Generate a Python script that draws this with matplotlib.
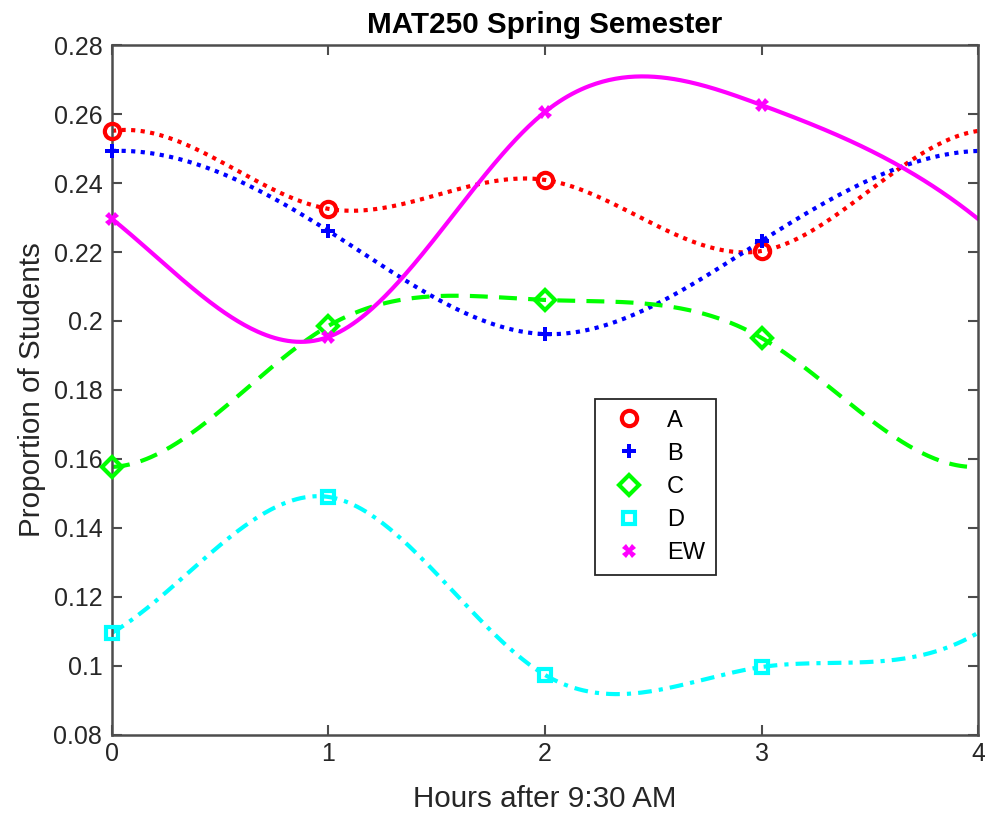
import numpy as np
import matplotlib
matplotlib.use("Agg")
import matplotlib.pyplot as plt

hours = [0, 1, 2, 3, 4]
grade_A = [0.2551, 0.2325, 0.2409, 0.2203, 0.2551]
grade_B = [0.2493, 0.2261, 0.1962, 0.2232, 0.2493]
grade_C = [0.1577, 0.1986, 0.2061, 0.1951, 0.1577]
grade_D = [0.1096, 0.1490, 0.0974, 0.0997, 0.1096]
grade_EW = [0.2296, 0.1954, 0.2606, 0.2626, 0.2296]
labels = ["A", "B", "C", "D", "EW"]


def periodic_spline(x, y, xq):
    x = np.asarray(x, float); y = np.asarray(y, float)
    n = len(x) - 1  # number of intervals; y[n] == y[0]
    h = np.diff(x)
    A = np.zeros((n, n)); r = np.zeros(n)
    for i in range(n):
        hp = h[i - 1]; hn = h[i]
        A[i, (i - 1) % n] += hp
        A[i, i] += 2 * (hp + hn)
        A[i, (i + 1) % n] += hn
        yp = y[i - 1] if i > 0 else y[n - 1]
        r[i] = 6 * ((y[i + 1] - y[i]) / hn - (y[i] - yp) / hp)
    M = np.linalg.solve(A, r)
    M = np.append(M, M[0])
    idx = np.clip(np.searchsorted(x, xq) - 1, 0, n - 1)
    x0 = x[idx]; x1 = x[idx + 1]; hh = x1 - x0
    a = (x1 - xq) / hh; b = (xq - x0) / hh
    return (a * y[idx] + b * y[idx + 1]
            + ((a ** 3 - a) * M[idx] + (b ** 3 - b) * M[idx + 1]) * hh ** 2 / 6)


plt.rcParams['font.family'] = ['Liberation Sans', 'DejaVu Sans']
fig = plt.figure(figsize=(9.85, 8.17), dpi=100)
ax = fig.add_axes([0.1137, 0.1004, 0.8792, 0.8445])

series = [grade_A, grade_B, grade_C, grade_D, grade_EW]
colors = ['#ff0000', '#0000ff', '#00ff00', '#00ffff', '#ff00ff']
styles = [(0, (1, 1.3)), (0, (1, 1.3)), (0, (4.3, 2.7)), (0, (3.3, 1.7, 1, 1.7)), '-']
markers = ['o', 'P', 'D', 's', 'X']
msizes = [11, 10, 10, 9, 10]
xs = np.linspace(0, 4, 400)
handles = []
for yv, c, ls, mk, ms, lab in zip(series, colors, styles, markers, msizes, labels):
    ax.plot(xs, periodic_spline(hours, yv, xs), color=c, linestyle=ls, lw=3, zorder=2)
    if mk in ('o', 'D', 's'):
        h, = ax.plot(hours[:4], yv[:4], linestyle='none', marker=mk, ms=ms,
                     mfc='none', mec=c, mew=3, color=c, label=lab, clip_on=False, zorder=3)
    else:
        h, = ax.plot(hours[:4], yv[:4], linestyle='none', marker=mk, ms=ms,
                     mfc=c, mec=c, mew=0, color=c, label=lab, clip_on=False, zorder=3)
    handles.append(h)

ax.set_xlim(0, 4)
ax.set_ylim(0.08, 0.28)
ax.set_xticks([0, 1, 2, 3, 4])
ax.set_yticks(np.arange(0.08, 0.281, 0.02))
ax.set_yticklabels(['0.08', '0.1', '0.12', '0.14', '0.16', '0.18', '0.2', '0.22', '0.24', '0.26', '0.28'])
ax.tick_params(direction='in', length=7, width=1.5, labelsize=18,
               top=True, right=True, pad=7)
ax.tick_params(axis='x', pad=5)
ax.tick_params(axis='both', colors='#4d4d4d', labelcolor='#262626')
for s in ax.spines.values():
    s.set_color('#4d4d4d'); s.set_linewidth(1.8)

ax.set_xlabel('Hours after 9:30 AM', fontsize=21.3, color='#262626', labelpad=14)
ax.set_ylabel('Proportion of Students', fontsize=21.3, color='#262626', labelpad=5)
ax.set_title('MAT250 Spring Semester', fontsize=21.3, fontweight='bold', color='black', pad=9)

leg = ax.legend(handles=handles, loc='upper left', bbox_to_anchor=(0.558, 0.487),
                fontsize=17, fancybox=False, edgecolor='#262626', framealpha=1,
                handlelength=2.0, handletextpad=0.6, labelspacing=0.47, borderpad=0.45,
                borderaxespad=0)
leg.get_frame().set_linewidth(1.3)

fig.savefig('out.png', dpi=100)
